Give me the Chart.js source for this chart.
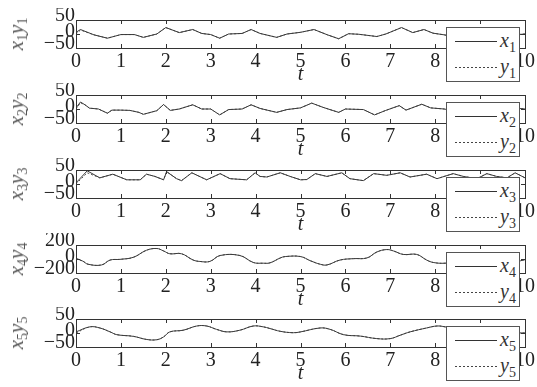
<!DOCTYPE html>
<html>
<head>
<meta charset="utf-8">
<script src="https://cdn.jsdelivr.net/npm/chart.js@4/dist/chart.umd.min.js"></script>
<style>
  html, body { margin: 0; padding: 0; background: #fff; }
  #wrap { position: relative; width: 537px; height: 387px; overflow: hidden;
          font-family: "Liberation Serif", "DejaVu Serif", serif; }
  #wrap canvas { position: absolute; left: 0; }
  .ytitle { position: absolute; left: 18px; white-space: nowrap; color: #555;
            font-size: 21px; transform: translate(-50%, -50%) rotate(-90deg); line-height: 1; }
  .ytitle i { font-style: italic; }
  .ytitle sub { font-size: 14px; vertical-align: -4px; font-style: normal; }
  .legend sub { font-size: 14px; vertical-align: -5px; font-style: normal; }
  .legend { position: absolute; left: 446px; width: 74px; height: 55px; background: #fff;
            border: 1px solid #555; box-sizing: border-box; }
  .legend .row { position: absolute; left: 0; width: 100%; height: 20px; }
  .legend .solid { position: absolute; left: 8px; width: 42px; top: 8px; height: 0; border-top: 1px solid #333; }
  .legend .dash { position: absolute; left: 8px; width: 42px; top: 8px; height: 1px;
                  background: repeating-linear-gradient(to right, #444 0 2px, transparent 2px 4px); }
  .legend .txt { position: absolute; left: 53px; top: -3px; font-size: 20px; font-style: italic; color: #333; line-height: 1; }
</style>
</head>
<body>
<div id="wrap"></div>
<script>
// time ticks and y-axis ticks
const tTicks = [0, 1, 2, 3, 4, 5, 6, 7, 8, 9, 10];
const yTicks50 = [-50, 0, 50];
const yTicks200 = [-200, 0, 200];

// state 1
const t1 = [0, 0.1, 0.4, 0.7, 1.0, 1.3, 1.5, 1.8, 2.0, 2.3, 2.6, 2.8, 3.0, 3.2, 3.4, 3.7, 3.9, 4.1, 4.47, 4.7, 5.0, 5.3, 5.6, 5.85, 6.07, 6.3, 6.7, 6.9, 7.25, 7.5, 7.75, 7.95, 8.2, 8.5, 8.8, 9.1, 9.4, 9.7, 10];
const x1 = [6, 16, -3, -15, -2, -2, -12, 0, 23, 5, 16, 2, -2, -15, 0, 2, 16, 2, -12, 0, 6, 16, -3, -17, 1, -1, -9, 0, 23, 5, 16, 3, -3, -13, -5, 2, -10, -4, 0];
const y1 = [0, 14, -3, -15, -2, -2, -12, 0, 23, 5, 16, 2, -2, -15, 0, 2, 16, 2, -12, 0, 6, 16, -3, -17, 1, -1, -9, 0, 23, 5, 16, 3, -3, -13, -5, 2, -10, -4, 0];

// state 2
const t2 = [0, 0.1, 0.2, 0.3, 0.5, 0.7, 0.8, 1.0, 1.2, 1.4, 1.5, 1.8, 1.95, 2.1, 2.3, 2.6, 2.8, 3.0, 3.2, 3.4, 3.7, 3.9, 4.1, 4.47, 4.7, 5.0, 5.25, 5.5, 5.85, 6.0, 6.4, 6.65, 6.9, 7.2, 7.35, 7.7, 7.9, 8.2, 8.6, 9.0, 9.4, 9.8, 10];
const x2 = [4, 25, 15, 3, 0, -15, -4, -4, -5, -12, -19, -6, 16, -5, 0, 15, 0, 0, -21, -2, 0, 15, 2, -12, -2, 4, 21, 6, -12, 0, -2, -21, -5, 12, -4, 17, 4, 0, -12, 5, -8, 3, 0];
const y2 = [0, 22, 15, 3, 0, -15, -4, -4, -5, -12, -19, -6, 16, -5, 0, 15, 0, 0, -21, -2, 0, 15, 2, -12, -2, 4, 21, 6, -12, 0, -2, -21, -5, 12, -4, 17, 4, 0, -12, 5, -8, 3, 0];

// state 3
const t3 = [0, 0.25, 0.53, 0.82, 1.13, 1.43, 1.57, 1.76, 1.95, 2.02, 2.24, 2.35, 2.58, 2.91, 3.21, 3.43, 3.8, 3.99, 4.1, 4.25, 4.55, 4.77, 5.0, 5.14, 5.33, 5.59, 5.92, 6.1, 6.4, 6.63, 6.92, 7.22, 7.44, 7.81, 8.04, 8.4, 8.63, 8.93, 9.15, 9.37, 9.6, 9.78, 10];
const x3 = [4, 47, 22, 35, 15, 15, 35, 27, 15, 44, 19, 12, 40, 15, 37, 19, 15, 40, 27, 25, 40, 27, 15, 16, 37, 27, 40, 19, 12, 37, 31, 40, 25, 35, 19, 37, 27, 19, 37, 27, 22, 40, 22];
const y3 = [0, 40, 22, 35, 15, 15, 35, 27, 15, 44, 19, 12, 40, 15, 37, 19, 15, 40, 27, 25, 40, 27, 15, 16, 37, 27, 40, 19, 12, 37, 31, 40, 25, 35, 19, 37, 27, 19, 37, 27, 22, 40, 22];

// state 4
const t4 = [0, 0.15, 0.27, 0.57, 0.76, 0.98, 1.28, 1.57, 1.8, 1.95, 2.09, 2.35, 2.61, 2.76, 2.98, 3.21, 3.65, 3.95, 4.17, 4.32, 4.55, 4.66, 5.0, 5.22, 5.44, 5.59, 5.88, 6.18, 6.48, 6.7, 6.92, 7.07, 7.29, 7.59, 7.81, 7.96, 8.22, 8.6, 9.0, 9.4, 9.8, 10];
const x4 = [10, -30, -75, -85, -15, -5, 25, 125, 150, 115, 75, 75, -15, -35, -35, 50, 50, -50, -60, -55, 15, 35, 35, -25, -75, -85, -15, 5, 15, 100, 135, 115, 65, 65, -15, -50, -60, -30, 40, 40, -30, -10];
const y4 = [0, -30, -75, -85, -15, -5, 25, 125, 150, 115, 75, 75, -15, -35, -35, 50, 50, -50, -60, -55, 15, 35, 35, -25, -75, -85, -15, 5, 15, 100, 135, 115, 65, 65, -15, -50, -60, -30, 40, 40, -30, -10];

// state 5
const t5 = [0, 0.31, 0.53, 0.76, 0.91, 1.28, 1.57, 1.8, 1.95, 2.09, 2.39, 2.69, 2.91, 3.13, 3.36, 3.65, 3.95, 4.17, 4.32, 4.55, 4.84, 5.0, 5.44, 5.66, 5.96, 6.33, 6.7, 7.0, 7.22, 7.44, 7.81, 8.04, 8.22, 8.6, 9.0, 9.4, 9.8, 10];
const x5 = [4, 22, 18, 4, -6, -12, -23, -24, -14, 4, 10, 25, 25, 13, 4, 10, 25, 22, 16, 6, 1, 4, 18, 13, -6, -11, -20, -20, -8, 4, 18, 25, 22, 10, 0, -5, 0, 0];
const y5 = [0, 22, 18, 4, -6, -12, -23, -24, -14, 4, 10, 25, 25, 13, 4, 10, 25, 22, 16, 6, 1, 4, 18, 13, -6, -11, -20, -20, -8, 4, 18, 25, 22, 10, 0, -5, 0, 0];

const panels = [
  { top: 20, t: t1, x: x1, y: y1, range: 50, yt: yTicks50, n: 1, smooth: 0 },
  { top: 95, t: t2, x: x2, y: y2, range: 50, yt: yTicks50, n: 2, smooth: 0 },
  { top: 170, t: t3, x: x3, y: y3, range: 50, yt: yTicks50, n: 3, smooth: 0 },
  { top: 245, t: t4, x: x4, y: y4, range: 200, yt: yTicks200, n: 4, smooth: 0.4 },
  { top: 319, t: t5, x: x5, y: y5, range: 50, yt: yTicks50, n: 5, smooth: 0.4 }
];

const FONT = '"Liberation Serif", "DejaVu Serif", serif';
const TICK_SIZE = 20;
const PAD_TOP = 12, PLOT_H = 28, CANVAS_H = 75;

// box around the plot, inward ticks on all four sides, and the y tick labels
// (labels nudged upward, since the axis is short for the font)
const framePlugin = {
  id: 'frame',
  afterDraw(chart) {
    const { ctx, chartArea: a, scales } = chart;
    ctx.save();
    ctx.strokeStyle = '#333';
    ctx.lineWidth = 1;
    ctx.strokeRect(Math.round(a.left) + 0.5, Math.round(a.top) + 0.5,
                   Math.round(a.right - a.left), Math.round(a.bottom - a.top));
    ctx.beginPath();
    const tl = 4;
    scales.x.ticks.forEach(tk => {
      const px = Math.round(scales.x.getPixelForValue(tk.value)) + 0.5;
      ctx.moveTo(px, a.top); ctx.lineTo(px, a.top + tl);
      ctx.moveTo(px, a.bottom); ctx.lineTo(px, a.bottom - tl);
    });
    scales.y.ticks.forEach(tk => {
      const py = Math.round(scales.y.getPixelForValue(tk.value)) + 0.5;
      ctx.moveTo(a.left, py); ctx.lineTo(a.left + tl, py);
      ctx.moveTo(a.right, py); ctx.lineTo(a.right - tl, py);
    });
    ctx.stroke();

    ctx.fillStyle = '#222';
    ctx.font = TICK_SIZE + 'px ' + FONT;
    ctx.textAlign = 'right';
    ctx.textBaseline = 'middle';
    const n = scales.y.ticks.length;
    scales.y.ticks.forEach((tk, i) => {
      const py = scales.y.getPixelForValue(tk.value);
      const shift = i === 0 ? -4 : (i === n - 1 ? -4 : -2);
      const txt = tk.value < 0 ? '\u2212' + Math.abs(tk.value) : String(tk.value);
      ctx.fillText(txt, a.left - 1, py + shift);
    });
    ctx.restore();
  }
};

const wrap = document.getElementById('wrap');

panels.forEach(p => {
  const cv = document.createElement('canvas');
  cv.width = 537; cv.height = CANVAS_H;
  cv.style.width = '537px'; cv.style.height = CANVAS_H + 'px';
  cv.style.top = (p.top - PAD_TOP) + 'px';
  wrap.appendChild(cv);

  new Chart(cv, {
    type: 'line',
    data: {
      datasets: [
        { label: 'x' + p.n, data: p.t.map((v, k) => ({ x: v, y: p.x[k] })),
          borderColor: '#3a3a3a', borderWidth: 1, pointRadius: 0, tension: p.smooth, fill: false },
        { label: 'y' + p.n, data: p.t.map((v, k) => ({ x: v, y: p.y[k] })),
          borderColor: '#555', borderWidth: 1, borderDash: [2, 2], pointRadius: 0, tension: p.smooth, fill: false }
      ]
    },
    options: {
      responsive: false,
      animation: false,
      devicePixelRatio: 1,
      layout: { padding: { top: PAD_TOP, right: 12, left: 0, bottom: 0 } },
      plugins: { legend: { display: false }, tooltip: { enabled: false } },
      scales: {
        x: {
          type: 'linear', min: 0, max: 10,
          afterBuildTicks: s => { s.ticks = tTicks.map(v => ({ value: v })); },
          afterFit: s => { s.height = CANVAS_H - PAD_TOP - PLOT_H; },
          grid: { display: false, drawTicks: false },
          border: { display: false },
          ticks: { autoSkip: false, maxRotation: 0, padding: 2, color: '#222',
                   font: { family: FONT, size: TICK_SIZE } },
          title: { display: true, text: 't', color: '#222', padding: { top: 0, bottom: -4 },
                   font: { family: FONT, size: TICK_SIZE, style: 'italic' } }
        },
        y: {
          min: -p.range, max: p.range,
          afterBuildTicks: s => { s.ticks = p.yt.map(v => ({ value: v })); },
          afterFit: s => { s.width = 76; },
          grid: { display: false, drawTicks: false },
          border: { display: false },
          ticks: { display: false, autoSkip: false }
        }
      }
    },
    plugins: [framePlugin]
  });

  // rotated axis title x_n y_n
  const yt = document.createElement('div');
  yt.className = 'ytitle';
  yt.style.top = (p.top + PLOT_H / 2) + 'px';
  yt.innerHTML = '<i>x</i><sub>' + p.n + '</sub><i>y</i><sub>' + p.n + '</sub>';
  wrap.appendChild(yt);

  // legend box
  const lg = document.createElement('div');
  lg.className = 'legend';
  lg.style.top = (p.top + 7) + 'px';
  lg.innerHTML =
    '<div class="row" style="top:5px"><div class="solid"></div><div class="txt">x<sub>' + p.n + '</sub></div></div>' +
    '<div class="row" style="top:31px"><div class="dash"></div><div class="txt">y<sub>' + p.n + '</sub></div></div>';
  wrap.appendChild(lg);
});
</script>
</body>
</html>
